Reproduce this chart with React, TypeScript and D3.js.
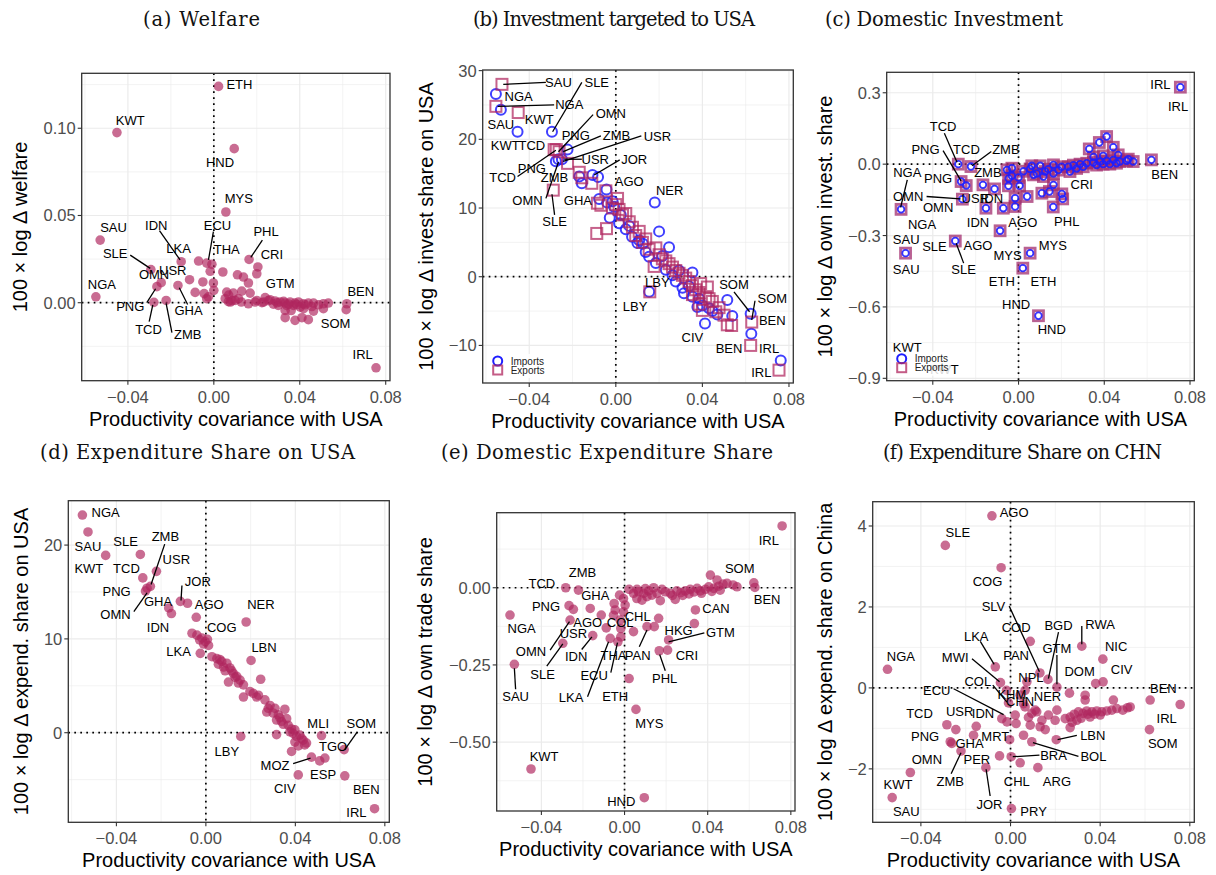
import * as d3 from "d3";

type P = [number, number];
type L = [string, number, number];
type S = [number, number, number, number];

// shared x axis: productivity covariance with USA
const xDomain: P = [-0.0615, 0.082];
const xTicks = [-0.04, 0, 0.04, 0.08];
const xMinor = [-0.06, -0.02, 0.02, 0.06];

// (a) welfare
const welfarePts: P[] = [
  [0.0022, 0.124], [-0.0451, 0.0975], [0.0095, 0.0883], [0.0056, 0.052], [-0.0529, 0.0359], [-0.0549, 0.0034],
  [-0.0293, 0.019], [-0.0265, 0.0092], [-0.0245, 0.0115], [-0.0279, 0.0002], [-0.0222, 0.0013], [-0.0167, 0.0099],
  [-0.0152, 0.0235], [-0.0113, 0.0132], [-0.0087, 0.0059], [-0.0071, 0.0239], [-0.0033, 0.0227], [-0.0009, 0.022],
  [-0.0017, 0.018], [0.0042, 0.0176], [0.011, 0.016], [0.0138, 0.0147], [0.0161, 0.0113], [0.0164, 0.0248],
  [0.0205, 0.0205], [0.02, 0.0166], [-0.0051, 0.0119], [-0.0002, 0.0113], [-0.0045, 0.0052], [0.0, 0.0071],
  [-0.0033, 0.0023], [-0.0025, 0.0034], [0.006, 0.0061], [0.0091, 0.0055], [0.013, 0.0067], [0.0169, 0.0055],
  [0.0053, 0.0023], [0.0068, 0.0006], [0.0099, 0.0013], [0.0161, -0.0006], [0.02, 0.0013], [0.0239, 0.0029],
  [0.0262, 0.0017], [0.0285, 0.001], [0.0309, 0.0004], [0.0332, -0.0002], [0.0355, 0.0004], [0.0378, -0.0002],
  [0.0394, 0.0004], [0.0417, -0.0006], [0.044, -0.0002], [0.0464, -0.0002], [0.051, -0.0006], [0.0533, -0.0002],
  [0.0332, -0.0044], [0.0332, -0.0086], [0.0378, -0.0101], [0.041, -0.0086], [0.044, -0.0097], [0.0464, -0.0048],
  [0.051, -0.0034], [0.0619, -0.0006], [0.0616, -0.004], [0.0755, -0.0373], [0.0231, 0.0004], [0.0277, -0.0008],
  [0.03, -0.0015], [0.0339, -0.0015], [0.0371, -0.0015], [0.0402, -0.0025], [0.0418, -0.0034], [0.0224, 0.0],
  [0.0192, 0.0004], [0.0128, 0.0004], [0.0077, 0.0004], [0.0115, 0.0023], [0.0069, 0.0044], [0.0085, 0.0012],
  [0.0254, 0.0012], [0.0295, 0.0], [0.0325, 0.0008], [0.0348, -0.0008], [0.0386, -0.0011], [0.0425, -0.0012],
  [0.0456, -0.0022], [0.0487, -0.0012], [0.036, -0.0045],
];
const welfareLabels: L[] = [
  ["ETH", 0.0119, 0.1252], ["KWT", -0.0389, 0.1047], ["HND", 0.0029, 0.0803], ["MYS", 0.0116, 0.0598],
  ["SAU", -0.0467, 0.043], ["SLE", -0.0459, 0.0283], ["NGA", -0.0521, 0.0107], ["IDN", -0.0268, 0.0442],
  ["LKA", -0.0164, 0.0308], ["ECU", 0.0017, 0.044], ["THA", 0.006, 0.0306], ["PHL", 0.0243, 0.0407],
  ["CRI", 0.027, 0.0277], ["USR", -0.0191, 0.0183], ["OMN", -0.0278, 0.0162], ["GTM", 0.0309, 0.0111],
  ["PNG", -0.0389, -0.0023], ["GHA", -0.0118, -0.0046], ["TCD", -0.0304, -0.0151], ["ZMB", -0.0121, -0.0182],
  ["BEN", 0.0684, 0.0063], ["SOM", 0.0567, -0.0119], ["IRL", 0.0693, -0.0296],
];
const welfareSegs: S[] = [
  [-0.0389, 0.0273, -0.0296, 0.0197], [-0.0253, 0.0413, -0.0157, 0.0245], [-0.0002, 0.0407, -0.0025, 0.0245],
  [0.0226, 0.0359, 0.0172, 0.026], [-0.0312, 0.0, -0.0271, 0.008], [-0.0122, -0.001, -0.0161, 0.0086],
  [-0.0301, -0.0109, -0.0284, -0.0013], [-0.0195, -0.0172, -0.0222, -0.0004],
];

// (b) investment targeted to USA
const investImp: P[] = [
  [-0.0554, 26.6], [-0.0531, 24.3], [-0.0454, 21.1], [-0.0295, 21.1], [-0.0223, 18.5], [-0.0277, 16.8],
  [-0.0265, 17.1], [-0.0249, 17.1], [-0.0169, 14.6], [-0.0157, 13.6], [-0.0082, 14.5], [-0.0108, 14.8],
  [-0.0043, 12.7], [-0.0077, 11.3], [-0.0028, 8.6], [0.0015, 7.8], [0.01, 4.9], [0.0154, 2.9], [0.018, 10.8],
  [0.02, 6.6], [0.0246, 4.3], [0.0262, 0.2], [0.0315, -2.4], [0.0354, 0.6], [0.0377, -4.4], [0.0412, -6.8],
  [0.0515, -3.4], [0.0538, -5.7], [0.0623, -5.4], [0.0626, -8.3], [0.0762, -12.2], [0.0154, -2.2],
  [0.0075, 5.8], [0.0046, 6.9], [0.0138, 3.6], [0.0185, 2.0], [0.0231, 1.0], [0.0277, -0.7], [0.0308, -1.6],
  [0.0354, -2.9], [0.04, -4.2], [0.0446, -5.0], [-0.0008, 10.2], [0.0023, 9.0], [0.0108, 5.3], [0.0215, 3.0],
  [0.0292, 0.9], [0.0338, -1.4], [0.0385, -3.2], [0.0431, -4.6], [0.0469, -5.5], [0.0062, 7.4], [0.0125, 4.8],
  [-0.004, 10.8], [-0.0015, 11.0],
];
const investExp: P[] = [
  [-0.0526, 28.0], [-0.0554, 24.8], [-0.0451, 23.9], [-0.0285, 18.5], [-0.0275, 18.5], [-0.0262, 18.2],
  [-0.0223, 16.5], [-0.0169, 15.2], [-0.0157, 14.4], [-0.0111, 13.6], [-0.0289, 12.6], [-0.0046, 12.5],
  [-0.0069, 10.4], [-0.0088, 6.3], [-0.0043, 7.0], [-0.0085, 10.7], [0.0008, 11.4], [-0.0015, 10.0], [0.0, 10.5],
  [0.0046, 9.2], [0.0062, 8.0], [0.0108, 6.6], [0.0177, 1.5], [0.0157, -2.2], [0.02, 3.2], [0.0246, 1.9],
  [0.0292, 0.5], [0.0338, -0.7], [0.0392, -1.0], [0.0423, -1.5], [0.04, -4.9], [0.0462, -5.1], [0.0515, -7.0],
  [0.0535, -7.1], [0.0628, -6.6], [0.0623, -10.0], [0.0754, -13.6], [0.0446, -3.6], [0.0415, -2.9],
  [0.0369, -1.9], [0.0323, -0.2], [0.0277, 0.9], [0.0231, 2.3], [0.0154, 4.0], [0.0123, 5.0], [0.0092, 6.0],
  [0.0015, 9.8], [0.0031, 9.0], [0.0077, 7.2], [0.0138, 5.5], [0.0185, 4.2], [0.0215, 2.6], [0.0262, 1.4],
  [0.0308, 0.2], [0.0354, -1.3], [0.0385, -2.3], [0.0431, -3.2], [0.0477, -4.5], [0.05, -5.6], [0.0354, -2.6],
  [0.0385, -4.0],
];
const investLabels: L[] = [
  ["SAU", -0.0265, 28.3], ["SLE", -0.0088, 28.3], ["NGA", -0.0449, 26.2], ["NGA", -0.0215, 25.0],
  ["SAU", -0.0531, 22.2], ["KWT", -0.0354, 22.9], ["OMN", -0.0023, 23.7], ["PNG", -0.0185, 20.5],
  ["ZMB", 0.0003, 20.5], ["USR", 0.0192, 20.4], ["KWT", -0.0511, 19.1], ["TCD", -0.0388, 19.1],
  ["USR", -0.0095, 17.1], ["JOR", 0.0085, 17.1], ["PNG", -0.0388, 15.8], ["TCD", -0.0523, 14.4],
  ["ZMB", -0.0283, 14.4], ["AGO", 0.0062, 13.8], ["NER", 0.0249, 12.6], ["OMN", -0.0408, 11.1],
  ["GHA", -0.0175, 11.1], ["SLE", -0.0283, 8.0], ["LBY", 0.0192, -0.9], ["LBY", 0.0089, -4.4],
  ["SOM", 0.0546, -1.2], ["SOM", 0.0723, -3.2], ["BEN", 0.0723, -6.4], ["CIV", 0.0354, -8.9],
  ["BEN", 0.0523, -10.5], ["IRL", 0.0708, -10.4], ["IRL", 0.0672, -13.9],
];
const investSegs: S[] = [
  [-0.0323, 28.3, -0.052, 28.0], [-0.0157, 28.3, -0.0292, 21.1], [-0.0285, 25.0, -0.0546, 24.8],
  [-0.0105, 23.6, -0.0265, 18.2], [-0.0069, 20.5, -0.0243, 18.2], [0.0118, 20.5, -0.0243, 16.8],
  [-0.0157, 17.1, -0.0238, 17.1], [0.0018, 17.0, -0.01, 14.8], [-0.0454, 14.6, -0.0277, 18.4],
  [-0.0323, 11.4, -0.0265, 16.7], [-0.0283, 9.0, -0.0295, 12.0], [0.0546, -2.2, 0.0618, -5.1],
  [0.0643, -3.5, 0.0628, -6.3],
];

// (c) domestic investment (imports and exports coincide)
const domInvPts: P[] = [
  [0.0755, 0.3235], [-0.0281, 0.0], [-0.0222, -0.01], [-0.0548, -0.19], [-0.0527, -0.374], [-0.0295, -0.323],
  [-0.0268, -0.073], [-0.0244, -0.09], [-0.0262, -0.147], [-0.0166, -0.087], [-0.0112, -0.104], [-0.0152, -0.185],
  [-0.0071, -0.185], [-0.0086, -0.28], [-0.0054, -0.024], [-0.0031, -0.017], [-0.0031, -0.049], [-0.0047, -0.091],
  [0.0005, -0.091], [-0.0016, -0.143], [-0.0016, -0.178], [0.004, -0.136], [0.0, -0.056], [0.0062, -0.007],
  [0.007, -0.045], [0.0101, -0.007], [0.0124, -0.031], [0.0163, -0.003], [0.0109, -0.122], [0.0144, -0.115],
  [0.0163, -0.087], [0.0162, -0.18], [0.0202, -0.125], [0.0206, -0.146], [0.0054, -0.374], [0.002, -0.437],
  [0.0093, -0.637], [0.0201, -0.011], [0.0232, -0.011], [0.0256, -0.004], [0.0287, 0.0], [0.0318, 0.004],
  [0.0349, 0.007], [0.038, 0.011], [0.0411, 0.014], [0.0442, 0.018], [0.0473, 0.011], [0.0504, 0.014],
  [0.0535, 0.011], [0.033, 0.064], [0.0377, 0.091], [0.0411, 0.116], [0.0442, 0.071], [0.0465, 0.039],
  [0.0512, 0.021], [0.062, 0.018], [0.024, -0.031], [0.0163, -0.039], [0.0116, -0.052], [0.0085, -0.039],
  [0.0139, -0.021], [0.0186, -0.025], [0.0271, -0.018], [0.0302, -0.011], [0.0364, -0.004], [0.0395, 0.0],
  [0.0426, 0.0], [0.0457, 0.004], [0.0395, 0.035], [0.035, 0.03], [0.0054, -0.02], [0.0023, -0.03],
  [-0.0046, -0.06],
];
const domInvLabels: L[] = [
  ["IRL", 0.0662, 0.336], ["IRL", 0.0744, 0.242], ["TCD", -0.0352, 0.158], ["PNG", -0.0434, 0.063],
  ["TCD", -0.0243, 0.063], ["ZMB", -0.0059, 0.063], ["NGA", -0.0519, -0.034], ["PNG", -0.0375, -0.059],
  ["ZMB", -0.0143, -0.034], ["OMN", -0.0515, -0.136], ["USR", -0.0202, -0.146], ["IDN", -0.0124, -0.146],
  ["OMN", -0.0375, -0.182], ["NGA", -0.045, -0.252], ["IDN", -0.0189, -0.244], ["AGO", 0.002, -0.244],
  ["PHL", 0.0225, -0.241], ["CRI", 0.0295, -0.084], ["BEN", 0.0682, -0.042], ["SAU", -0.0524, -0.318],
  ["SLE", -0.0392, -0.346], ["AGO", -0.0189, -0.342], ["SLE", -0.0256, -0.441], ["SAU", -0.0524, -0.441],
  ["MYS", 0.016, -0.342], ["MYS", -0.0051, -0.384], ["ETH", -0.0078, -0.493], ["ETH", 0.0116, -0.493],
  ["HND", -0.0011, -0.588], ["HND", 0.0155, -0.696], ["KWT", -0.0519, -0.77], ["KWT", -0.0346, -0.864],
];
const domInvSegs: S[] = [
  [-0.0346, 0.13, -0.0287, 0.008], [-0.0352, 0.057, -0.0268, -0.07], [-0.0127, 0.053, -0.0217, -0.007],
  [-0.0519, -0.066, -0.055, -0.182], [-0.0429, -0.136, -0.0271, -0.146], [-0.0256, -0.416, -0.0291, -0.332],
];

// (d) expenditure share on USA
const expUsaPts: P[] = [
  [-0.0552, 23.2], [-0.0527, 21.4], [-0.0448, 18.9], [-0.0293, 19.0], [-0.0282, 16.5], [-0.0221, 17.2],
  [-0.0248, 15.6], [-0.0263, 15.4], [-0.027, 15.1], [-0.0166, 13.3], [-0.0154, 12.7], [-0.0114, 14.0],
  [-0.0082, 13.8], [-0.0043, 12.3], [0.018, 11.8], [-0.0062, 10.6], [-0.004, 10.4], [-0.0018, 10.1],
  [-0.0003, 9.7], [0.0007, 9.95], [-0.001, 9.45], [-0.0025, 8.46], [0.0027, 8.1], [0.0049, 7.9], [0.0071, 7.6],
  [0.0079, 7.0], [0.0094, 7.4], [0.0108, 6.9], [0.0123, 6.3], [0.0138, 6.0], [0.0101, 5.4], [0.0153, 5.6],
  [0.0168, 5.1], [0.0202, 7.7], [0.0245, 5.7], [0.0168, 3.8], [0.0197, 4.4], [0.0235, 4.0], [0.0264, 3.5],
  [0.0287, 2.9], [0.0272, 2.2], [0.0301, 2.1], [0.0324, 1.9], [0.0353, 2.5], [0.0316, 1.35], [0.0338, 1.2],
  [0.0368, 0.8], [0.0376, 0.1], [0.039, -0.07], [0.0405, -0.4], [0.042, -0.25], [0.0435, -0.8], [0.045, -1.1],
  [0.0413, -1.4], [0.0383, -2.0], [0.0156, -0.4], [0.0316, -0.2], [0.0517, -0.3], [0.0472, -2.6],
  [0.0509, -3.0], [0.0532, -2.7], [0.0618, -1.8], [0.0413, -4.5], [0.0621, -4.6], [0.0754, -8.1],
  [0.0086, 6.6], [0.0116, 6.6], [0.0131, 5.9], [0.0145, 5.3], [0.0212, 4.2], [0.0227, 3.8], [0.0279, 2.6],
  [0.0309, 2.6], [0.0331, 1.6], [0.0346, 0.9], [0.0361, 1.5], [0.0383, 0.4], [0.0398, 0.3], [0.0428, -0.6],
  [0.0442, -1.3], [0.0398, -1.0], [0.0012, 9.3], [-0.0028, 9.9], [0.0056, 7.3], [0.0063, 7.8],
];
const expUsaLabels: L[] = [
  ["NGA", -0.0448, 23.45], ["SAU", -0.0527, 19.8], ["SLE", -0.0359, 20.4], ["ZMB", -0.0181, 20.9],
  ["USR", -0.0132, 18.5], ["KWT", -0.0523, 17.5], ["TCD", -0.0355, 17.5], ["JOR", -0.0036, 16.1],
  ["PNG", -0.0399, 15.1], ["GHA", -0.0214, 14.0], ["OMN", -0.0404, 12.6], ["AGO", 0.0015, 13.7],
  ["NER", 0.0246, 13.7], ["IDN", -0.0214, 11.2], ["COG", 0.0071, 11.2], ["LBN", 0.026, 9.1],
  ["LKA", -0.0122, 8.7], ["LBY", 0.0094, -2.0], ["MLI", 0.0502, 1.0], ["SOM", 0.0695, 1.0],
  ["TGO", 0.0569, -1.5], ["MOZ", 0.0309, -3.5], ["ESP", 0.0524, -4.5], ["CIV", 0.0353, -6.0],
  ["BEN", 0.0717, -6.1], ["IRL", 0.0673, -8.5],
];
const expUsaSegs: S[] = [
  [-0.0184, 20.1, -0.0245, 15.8], [-0.0107, 15.7, -0.0111, 14.1], [-0.0322, 12.9, -0.0263, 14.9],
  [0.0677, 0.1, 0.0621, -1.8], [0.039, -3.3, 0.0468, -2.7],
];

// (e) domestic expenditure share
const ownTradePts: P[] = [
  [0.0758, 0.2], [-0.0551, -0.0885], [-0.053, -0.248], [-0.045, -0.587], [0.0095, -0.68], [0.0055, -0.394],
  [0.0022, -0.294], [-0.0283, 0.0], [-0.0222, -0.0076], [-0.0267, -0.058], [-0.0246, -0.07], [-0.0262, -0.105],
  [-0.0297, -0.18], [-0.0165, -0.067], [-0.0112, -0.0885], [-0.0153, -0.155], [-0.0088, -0.13], [-0.0069, -0.164],
  [-0.0024, -0.024], [-0.0005, -0.035], [-0.005, -0.051], [-0.0045, -0.072], [0.0003, -0.056], [-0.0005, -0.078],
  [-0.0053, -0.089], [-0.0021, -0.105], [-0.0018, -0.132], [-0.0032, -0.175], [-0.0018, -0.159], [0.0043, -0.142],
  [0.0108, -0.126], [0.0143, -0.126], [0.0164, -0.099], [0.0167, -0.204], [0.0212, -0.169], [0.0207, -0.202],
  [0.0341, -0.072], [0.0336, -0.116], [0.0043, -0.018], [0.0067, -0.013], [0.0092, -0.018], [0.0116, -0.01],
  [0.0059, -0.035], [0.0084, -0.04], [0.0108, -0.029], [0.0132, -0.024], [0.0156, -0.018], [0.0172, -0.042],
  [0.0196, -0.013], [0.022, -0.018], [0.0244, -0.038], [0.0252, -0.01], [0.0271, -0.016], [0.0292, -0.01],
  [0.0316, -0.005], [0.0333, -0.014], [0.0349, -0.002], [0.0365, -0.01], [0.0389, -0.005], [0.0405, 0.003],
  [0.0413, 0.041], [0.0445, 0.025], [0.0429, -0.002], [0.0453, 0.005], [0.0474, 0.012], [0.0493, 0.014],
  [0.0522, 0.009], [0.0541, 0.003], [0.0622, 0.016], [0.0627, 0.001], [0.0022, -0.005], [0.006, -0.005],
  [0.01, -0.003], [0.014, 0.0], [0.018, -0.005], [0.023, -0.025], [0.028, -0.025], [0.031, -0.02],
  [0.037, -0.018], [0.042, -0.012], [0.046, -0.008],
];
const ownTradeLabels: L[] = [
  ["IRL", 0.0694, 0.154], ["SOM", 0.0554, 0.063], ["BEN", 0.0686, -0.038], ["ZMB", -0.0202, 0.05],
  ["TCD", -0.0398, 0.014], ["GHA", -0.0141, -0.026], ["PNG", -0.0378, -0.062], ["CAN", 0.044, -0.067],
  ["CHL", 0.0063, -0.092], ["AGO", -0.0177, -0.113], ["COL", -0.0021, -0.113], ["NGA", -0.0495, -0.132],
  ["USR", -0.0246, -0.148], ["HKG", 0.026, -0.139], ["GTM", 0.0461, -0.146], ["OMN", -0.045, -0.207],
  ["IDN", -0.0233, -0.223], ["THA", -0.0053, -0.218], ["PAN", 0.0063, -0.218], ["CRI", 0.03, -0.218],
  ["SLE", -0.0394, -0.281], ["ECU", -0.0146, -0.283], ["PHL", 0.0193, -0.294], ["SAU", -0.0524, -0.353],
  ["LKA", -0.0257, -0.355], ["ETH", -0.0045, -0.353], ["MYS", 0.0119, -0.441], ["KWT", -0.0387, -0.545],
  ["HND", -0.0016, -0.691],
];
const ownTradeSegs: S[] = [
  [0.0384, -0.146, 0.0212, -0.175], [-0.0358, -0.202, -0.0265, -0.11], [-0.0206, -0.2, -0.0157, -0.159],
  [0.0071, -0.191, 0.0108, -0.137], [-0.0374, -0.254, -0.0297, -0.182], [-0.0066, -0.275, -0.0034, -0.178],
  [0.0196, -0.269, 0.0169, -0.216], [-0.0524, -0.329, -0.053, -0.261], [-0.0178, -0.353, -0.0077, -0.175],
];

// (f) expenditure share on CHN
const expChnPts: P[] = [
  [-0.0083, 4.25], [-0.0291, 3.52], [-0.0042, 2.97], [0.0088, 1.15], [0.0318, 1.03], [0.0412, 0.71],
  [-0.0549, 0.46], [-0.0068, 0.52], [0.0131, 0.37], [0.0167, 0.21], [0.0207, 0.02], [0.0073, 0.15],
  [-0.0045, 0.13], [-0.0018, -0.06], [0.038, 0.11], [0.0413, 0.15], [0.0263, -0.13], [0.0333, -0.18],
  [0.0333, -0.3], [0.0459, -0.3], [0.0623, -0.3], [0.0757, -0.41], [0.062, -1.03], [-0.0009, -0.37],
  [0.0065, -0.47], [0.011, -0.55], [0.0207, -0.55], [-0.0039, -0.76], [-0.0016, -0.84], [0.0025, -0.88],
  [-0.0153, -0.95], [-0.0284, -0.91], [-0.0244, -1.03], [-0.0165, -1.17], [-0.0269, -1.33], [-0.0262, -1.37],
  [-0.0004, -1.28], [0.0058, -1.17], [0.0132, -0.96], [0.0155, -1.03], [0.0204, -1.28], [0.0095, -1.33],
  [-0.0221, -1.56], [-0.0049, -1.68], [0.0003, -1.7], [0.0043, -1.85], [0.0122, -1.97], [-0.011, -1.97],
  [-0.0447, -2.09], [-0.0528, -2.71], [0.0004, -2.98], [0.0065, -0.06], [0.0043, -0.18], [0.0058, -0.39],
  [0.0095, -0.63], [0.008, -0.73], [0.0117, -0.59], [0.014, -0.8], [0.0169, -0.67], [0.0199, -0.8],
  [0.0244, -0.76], [0.0266, -0.72], [0.0284, -0.65], [0.0303, -0.59], [0.0323, -0.63], [0.034, -0.57],
  [0.0363, -0.59], [0.0385, -0.57], [0.0407, -0.59], [0.043, -0.57], [0.0452, -0.55], [0.0474, -0.51],
  [0.0501, -0.55], [0.0522, -0.49], [0.0534, -0.47], [0.0266, -0.98], [0.0296, -0.8], [0.0355, -0.72],
  [0.04, -0.67], [0.0088, -0.92], [0.0021, -0.67], [0.0275, -0.85], [0.0315, -0.75], [0.0345, -0.65],
  [0.0375, -0.65],
];
const expChnLabels: L[] = [
  ["AGO", 0.0016, 4.33], ["SLE", -0.0235, 3.85], ["COG", -0.0103, 2.63], ["SLV", -0.0076, 2.02],
  ["COD", 0.0025, 1.48], ["BGD", 0.0214, 1.53], ["RWA", 0.04, 1.57], ["LKA", -0.0153, 1.28],
  ["GTM", 0.0207, 0.97], ["NIC", 0.0471, 1.03], ["NGA", -0.0489, 0.77], ["MWI", -0.0247, 0.74],
  ["PAN", 0.0025, 0.81], ["DOM", 0.0308, 0.4], ["CIV", 0.0496, 0.45], ["NPL", 0.0091, 0.25],
  ["COL", -0.0146, 0.16], ["ECU", -0.0329, -0.06], ["BEN", 0.0682, -0.02], ["KHM", 0.0006, -0.16],
  ["CHN", 0.0043, -0.33], ["NER", 0.0165, -0.22], ["TCD", -0.0406, -0.63], ["USR", -0.0227, -0.58],
  ["IDN", -0.0123, -0.63], ["IRL", 0.0697, -0.76], ["PNG", -0.0381, -1.21], ["MRT", -0.0068, -1.21],
  ["LBN", 0.0367, -1.17], ["GHA", -0.0183, -1.37], ["SOM", 0.0679, -1.37], ["BRA", 0.0192, -1.66],
  ["BOL", 0.037, -1.7], ["OMN", -0.0373, -1.76], ["PER", -0.015, -1.77], ["ZMB", -0.0269, -2.32],
  ["CHL", 0.0028, -2.32], ["ARG", 0.0207, -2.32], ["KWT", -0.0502, -2.39], ["JOR", -0.0094, -2.87],
  ["PRY", 0.0103, -3.06], ["SAU", -0.0465, -3.06],
];
const expChnSegs: S[] = [
  [-0.0006, 2.02, 0.0129, 0.4], [0.0214, 1.38, 0.0169, 0.23], [0.0318, 1.53, 0.0318, 1.08],
  [-0.0135, 1.15, -0.0073, 0.58], [0.0207, 0.81, 0.0207, 0.09], [-0.0172, 0.72, -0.0049, 0.15],
  [-0.0079, 0.07, -0.0016, -0.35], [-0.0254, -0.02, -0.0031, -0.66], [0.0296, -1.17, 0.021, -1.28],
  [0.0129, -1.66, 0.001, -1.7], [0.0303, -1.69, 0.01, -1.35], [-0.0265, -2.12, -0.0221, -1.6],
  [-0.0091, -2.67, -0.0109, -2.01],
];

const SANS = "'Liberation Sans', Arial, Helvetica, sans-serif";
const SERIF = "'DejaVu Serif', serif";
const DOT = "#B0265E";
const BLUE = "#1E1EFF";

type Box = { l: number; t: number; r: number; b: number };
type Series = { pts: P[]; kind: "dot" | "circle" | "square" | "circleSmall" | "squareThick" };

type PanelProps = {
  box: Box;
  yDomain: P;
  yTicks: number[];
  yMinor: number[];
  yFmt: (v: number) => string;
  title: string;
  titleX: number;
  titleY: number;
  titleW: number;
  yLabel: string;
  yLabelX: number;
  series: Series[];
  labels: L[];
  segs: S[];
  legend?: boolean;
};

function Panel(p: PanelProps) {
  const { box } = p;
  const x = d3.scaleLinear().domain(xDomain).range([box.l, box.r]);
  const y = d3.scaleLinear().domain(p.yDomain).range([box.b, box.t]);
  const fmtX = d3.format(".2f");
  const grid = "#ebebeb";
  const midX = (box.l + box.r) / 2;
  const midY = (box.t + box.b) / 2;

  const drawSeries = (s: Series, si: number) =>
    s.pts.map((d, i) => {
      const cx = x(d[0]);
      const cy = y(d[1]);
      const k = `${si}-${i}`;
      if (s.kind === "dot")
        return <circle key={k} cx={cx} cy={cy} r={4.8} fill={DOT} fillOpacity={0.68} />;
      if (s.kind === "circle")
        return <circle key={k} cx={cx} cy={cy} r={5} fill="none" stroke={BLUE} strokeWidth={2} strokeOpacity={0.85} />;
      if (s.kind === "circleSmall")
        return <circle key={k} cx={cx} cy={cy} r={3.3} fill="none" stroke={BLUE} strokeWidth={1.8} strokeOpacity={0.9} />;
      if (s.kind === "squareThick")
        return <rect key={k} x={cx - 5} y={cy - 5} width={10} height={10} fill="none" stroke="#A12C6E" strokeWidth={2.8} strokeOpacity={0.75} />;
      return <rect key={k} x={cx - 5.5} y={cy - 5.5} width={11} height={11} fill="none" stroke={DOT} strokeWidth={2} strokeOpacity={0.72} />;
    });

  return (
    <g>
      <text x={p.titleX} y={p.titleY} fontFamily={SERIF} fontSize={19.5} fill="#111"
        textLength={p.titleW} lengthAdjust="spacing">
        {p.title}
      </text>
      <rect x={box.l} y={box.t} width={box.r - box.l} height={box.b - box.t} fill="white" />
      {xMinor.map((v) => (
        <line key={"xm" + v} x1={x(v)} x2={x(v)} y1={box.t} y2={box.b} stroke={grid} strokeWidth={0.6} />
      ))}
      {p.yMinor.map((v) => (
        <line key={"ym" + v} x1={box.l} x2={box.r} y1={y(v)} y2={y(v)} stroke={grid} strokeWidth={0.6} />
      ))}
      {xTicks.map((v) => (
        <line key={"xg" + v} x1={x(v)} x2={x(v)} y1={box.t} y2={box.b} stroke={grid} strokeWidth={1.2} />
      ))}
      {p.yTicks.map((v) => (
        <line key={"yg" + v} x1={box.l} x2={box.r} y1={y(v)} y2={y(v)} stroke={grid} strokeWidth={1.2} />
      ))}
      <line x1={x(0)} x2={x(0)} y1={box.t} y2={box.b} stroke="#000" strokeWidth={1.7} strokeDasharray="1.7 4.3" />
      <line x1={box.l} x2={box.r} y1={y(0)} y2={y(0)} stroke="#000" strokeWidth={1.7} strokeDasharray="1.7 4.3" />
      {p.series.map(drawSeries)}
      {p.segs.map((s, i) => (
        <line key={"s" + i} x1={x(s[0])} y1={y(s[1])} x2={x(s[2])} y2={y(s[3])} stroke="#000" strokeWidth={1.3} />
      ))}
      {p.labels.map((l, i) => (
        <text key={"l" + i} x={x(l[1])} y={y(l[2])} textAnchor="middle" dominantBaseline="central"
          fontFamily={SANS} fontSize={13} fill="#000">
          {l[0]}
        </text>
      ))}
      {p.legend && (
        <g>
          <rect x={box.l + 6} y={box.b - 29} width={58} height={24} fill="white" fillOpacity={0.85} />
          <circle cx={box.l + 15} cy={box.b - 22} r={4.5} fill="none" stroke={BLUE} strokeWidth={2} />
          <rect x={box.l + 10.5} y={box.b - 17.5} width={9} height={9} fill="none" stroke={DOT} strokeWidth={2} strokeOpacity={0.75} />
          <text x={box.l + 28} y={box.b - 22} dominantBaseline="central" fontFamily={SANS} fontSize={10} fill="#222">Imports</text>
          <text x={box.l + 28} y={box.b - 13} dominantBaseline="central" fontFamily={SANS} fontSize={10} fill="#222">Exports</text>
        </g>
      )}
      <rect x={box.l} y={box.t} width={box.r - box.l} height={box.b - box.t} fill="none" stroke="#333" strokeWidth={1.3} />
      {xTicks.map((v) => (
        <g key={"xt" + v}>
          <line x1={x(v)} x2={x(v)} y1={box.b} y2={box.b + 4} stroke="#333" strokeWidth={1.1} />
          <text x={x(v)} y={box.b + 16} textAnchor="middle" dominantBaseline="central" fontFamily={SANS} fontSize={16.5} fill="#4d4d4d">
            {fmtX(v)}
          </text>
        </g>
      ))}
      {p.yTicks.map((v) => (
        <g key={"yt" + v}>
          <line x1={box.l - 4} x2={box.l} y1={y(v)} y2={y(v)} stroke="#333" strokeWidth={1.1} />
          <text x={box.l - 6} y={y(v)} textAnchor="end" dominantBaseline="central" fontFamily={SANS} fontSize={16.5} fill="#4d4d4d">
            {p.yFmt(v)}
          </text>
        </g>
      ))}
      <text x={midX} y={box.b + 38} textAnchor="middle" dominantBaseline="central" fontFamily={SANS} fontSize={20} fill="#000">
        Productivity covariance with USA
      </text>
      <text transform={`translate(${p.yLabelX},${midY}) rotate(-90)`} textAnchor="middle" dominantBaseline="central"
        fontFamily={SANS} fontSize={20} fill="#000">
        {p.yLabel}
      </text>
    </g>
  );
}

export default function App() {
  const f2 = d3.format(".2f");
  const f1 = d3.format(".1f");
  const f0 = d3.format(".0f");
  return (
    <svg width={1216} height={875} style={{ position: "absolute", left: 0, top: 0, background: "white" }}>
      <Panel
        box={{ l: 81.7, t: 73.3, r: 390, b: 380.7 }}
        yDomain={[-0.0447, 0.1315]}
        yTicks={[0, 0.05, 0.1]}
        yMinor={[-0.025, 0.025, 0.075, 0.125]}
        yFmt={f2}
        title="(a) Welfare"
        titleX={143}
        titleY={26}
        titleW={117}
        yLabel="100 × log Δ welfare"
        yLabelX={20}
        series={[{ pts: welfarePts, kind: "dot" }]}
        labels={welfareLabels}
        segs={welfareSegs}
      />
      <Panel
        box={{ l: 482.7, t: 70, r: 793.3, b: 383 }}
        yDomain={[-15.47, 30.09]}
        yTicks={[-10, 0, 10, 20, 30]}
        yMinor={[-5, 5, 15, 25]}
        yFmt={f0}
        title="(b) Investment targeted to USA"
        titleX={473}
        titleY={26}
        titleW={282}
        yLabel="100 × log Δ invest share on USA"
        yLabelX={426}
        series={[{ pts: investImp, kind: "circle" }, { pts: investExp, kind: "square" }]}
        labels={investLabels}
        segs={investSegs}
        legend
      />
      <Panel
        box={{ l: 886.7, t: 72.3, r: 1194.3, b: 380.7 }}
        yDomain={[-0.91, 0.386]}
        yTicks={[-0.9, -0.6, -0.3, 0, 0.3]}
        yMinor={[-0.75, -0.45, -0.15, 0.15]}
        yFmt={f1}
        title="(c) Domestic Investment"
        titleX={825}
        titleY={26}
        titleW={238}
        yLabel="100 × log Δ own invest. share"
        yLabelX={825}
        series={[{ pts: domInvPts, kind: "squareThick" }, { pts: domInvPts, kind: "circleSmall" }]}
        labels={domInvLabels}
        segs={domInvSegs}
        legend
      />
      <Panel
        box={{ l: 68.3, t: 500.7, r: 389.3, b: 822.3 }}
        yDomain={[-9.55, 24.73]}
        yTicks={[0, 10, 20]}
        yMinor={[-5, 5, 15]}
        yFmt={f0}
        title="(d) Expenditure Share on USA"
        titleX={40}
        titleY={459}
        titleW={315}
        yLabel="100 × log Δ expend. share on USA"
        yLabelX={21}
        series={[{ pts: expUsaPts, kind: "dot" }]}
        labels={expUsaLabels}
        segs={expUsaSegs}
      />
      <Panel
        box={{ l: 496.7, t: 512.7, r: 795, b: 811 }}
        yDomain={[-0.723, 0.243]}
        yTicks={[-0.5, -0.25, 0]}
        yMinor={[-0.625, -0.375, -0.125, 0.125]}
        yFmt={f2}
        title="(e) Domestic Expenditure Share"
        titleX={441}
        titleY={459}
        titleW={332}
        yLabel="100 × log Δ own trade share"
        yLabelX={425}
        series={[{ pts: ownTradePts, kind: "dot" }]}
        labels={ownTradeLabels}
        segs={ownTradeSegs}
      />
      <Panel
        box={{ l: 872.7, t: 501.7, r: 1194.3, b: 822.3 }}
        yDomain={[-3.32, 4.6]}
        yTicks={[-2, 0, 2, 4]}
        yMinor={[-3, -1, 1, 3]}
        yFmt={f0}
        title="(f) Expenditure Share on CHN"
        titleX={883}
        titleY={459}
        titleW={279}
        yLabel="100 × log Δ expend. share on China"
        yLabelX={825}
        series={[{ pts: expChnPts, kind: "dot" }]}
        labels={expChnLabels}
        segs={expChnSegs}
      />
    </svg>
  );
}
